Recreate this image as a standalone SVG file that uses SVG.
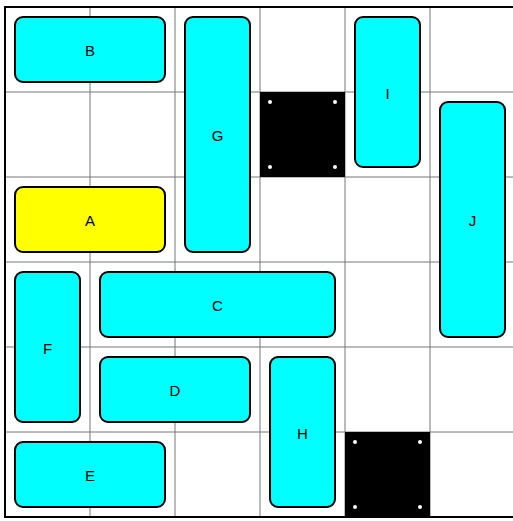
<svg xmlns="http://www.w3.org/2000/svg" width="513" height="521" viewBox="0 0 513 521">
<style>
.grid{stroke:#777;stroke-width:1;fill:none}
.blk{fill:#00ffff;stroke:#000;stroke-width:2}
.tgt{fill:#ffff00;stroke:#000;stroke-width:2}
.lbl{font-family:"Liberation Sans",Arial,sans-serif;font-size:15px;fill:#000;text-anchor:middle;dominant-baseline:central}
.wall{fill:#000}
.dot{fill:#fff}
</style>
<rect width="513" height="521" fill="#fff"/>
<g id="grid">
<path class="grid" d="M90 7V517M175 7V517M260 7V517M345 7V517M430 7V517M5 92H515M5 177H515M5 262H515M5 347H515M5 432H515"/>
<rect x="5" y="7" width="510" height="510" fill="none" stroke="#000" stroke-width="2"/>
</g>
<g id="wall1">
<rect class="wall" x="260" y="92" width="85" height="85"/>
<circle class="dot" cx="270" cy="102" r="2"/><circle class="dot" cx="335" cy="102" r="2"/>
<circle class="dot" cx="270" cy="167" r="2"/><circle class="dot" cx="335" cy="167" r="2"/>
</g>
<g id="wall2">
<rect class="wall" x="345" y="432" width="85" height="85"/>
<circle class="dot" cx="355" cy="442" r="2"/><circle class="dot" cx="420" cy="442" r="2"/>
<circle class="dot" cx="355" cy="507" r="2"/><circle class="dot" cx="420" cy="507" r="2"/>
</g>
<g id="B"><rect class="blk" x="15" y="17" width="150" height="65" rx="8"/><text class="lbl" x="90" y="50.5">B</text></g>
<g id="G"><rect class="blk" x="185" y="17" width="65" height="235" rx="8"/><text class="lbl" x="217.5" y="135.5">G</text></g>
<g id="I"><rect class="blk" x="355" y="17" width="65" height="150" rx="8"/><text class="lbl" x="387.5" y="93">I</text></g>
<g id="J"><rect class="blk" x="440" y="102" width="65" height="235" rx="8"/><text class="lbl" x="472.5" y="220.5">J</text></g>
<g id="A"><rect class="tgt" x="15" y="187" width="150" height="65" rx="8"/><text class="lbl" x="90" y="220.5">A</text></g>
<g id="C"><rect class="blk" x="100" y="272" width="235" height="65" rx="8"/><text class="lbl" x="217.5" y="305.5">C</text></g>
<g id="F"><rect class="blk" x="15" y="272" width="65" height="150" rx="8"/><text class="lbl" x="47.5" y="348">F</text></g>
<g id="D"><rect class="blk" x="100" y="357" width="150" height="65" rx="8"/><text class="lbl" x="175" y="390.5">D</text></g>
<g id="H"><rect class="blk" x="270" y="357" width="65" height="150" rx="8"/><text class="lbl" x="302.5" y="433">H</text></g>
<g id="E"><rect class="blk" x="15" y="442" width="150" height="65" rx="8"/><text class="lbl" x="90" y="475.5">E</text></g>
<g id="connectors"/>
</svg>
